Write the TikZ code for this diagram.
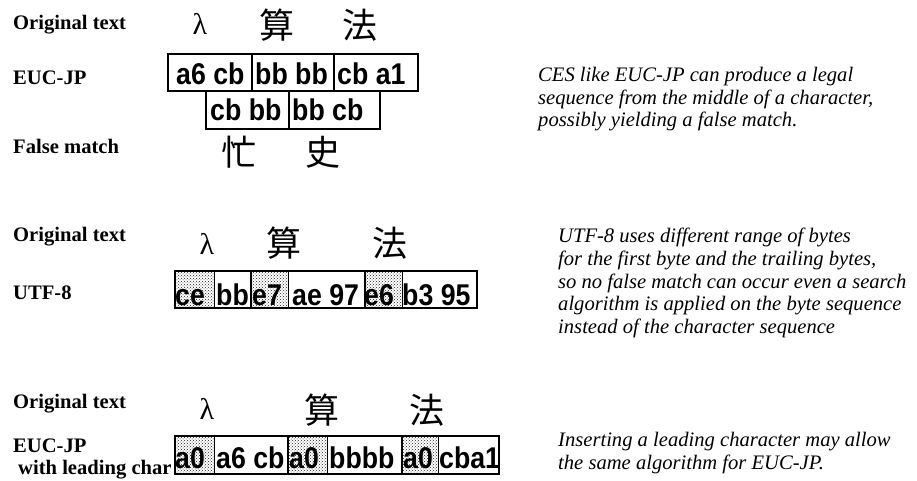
\documentclass[tikz,border=0pt]{standalone}
\usepackage{fontspec}
\setmainfont{Liberation Serif}
\newfontfamily\hvfont[FakeStretch=0.89]{Liberation Sans}
\newfontfamily\cjkfont{Noto Sans CJK JP}
\usetikzlibrary{patterns}
\begin{document}
\begin{tikzpicture}[x=1pt,y=-1pt,
  lbl/.style={anchor=west,inner sep=0pt,font=\fontsize{20.6}{22.7}\selectfont\bfseries},
  note/.style={anchor=north west,inner sep=0pt,align=left,font=\fontsize{20.6}{22.7}\selectfont\itshape},
  kanji/.style={inner sep=0pt,font=\cjkfont\fontsize{35}{35}\selectfont},
  lam/.style={anchor=base,inner sep=0pt,font=\fontsize{30}{30}\selectfont},
  byte/.style={anchor=base west,inner sep=0pt,font=\hvfont\fontsize{30}{30}\selectfont\bfseries},
  cellbox/.style={draw,line width=2.2pt},
  leadcell/.style={pattern=crosshatch dots,pattern color=black!85,draw,line width=0.8pt}
]
\useasboundingbox (0,0) rectangle (917,481);

% ---------- Section 1 ----------
\node[lbl] (o1) at (13,25) {Original text};
\node[lbl] (e1) at (13,78) {EUC-JP};
\node[lbl] (f1) at (13,146) {False match};
\node[lam] (l1) at (200,35) {λ};
\node[kanji] (s1) at (277,25) {算};
\node[kanji] (h1) at (360,25) {法};
\node[kanji] (m1) at (239,152) {忙};
\node[kanji] (k1) at (323,152) {史};

\draw[cellbox] (168,54) rectangle (252,91);
\draw[cellbox] (252,54) rectangle (334,91);
\draw[cellbox] (334,54) rectangle (418,91);
\draw[cellbox] (206,91) rectangle (289,129);
\draw[cellbox] (289,91) rectangle (380,129);
\node[byte] (b11) at (176,85) {a6 cb};
\node[byte] (b12) at (255,85) {bb bb};
\node[byte] (b13) at (337,85) {cb a1};
\node[byte] (b14) at (210,121) {cb bb};
\node[byte] (b15) at (292,121) {bb cb};

\node[note] (n1) at (538,67) {CES like EUC-JP can produce a legal\\
sequence from the middle of a character,\\
possibly yielding a false match.};

% ---------- Section 2 ----------
\node[lbl] (o2) at (13,237) {Original text};
\node[lbl] (u2) at (13,293) {UTF-8};
\node[lam] (l2) at (207,254) {λ};
\node[kanji] (s2) at (284,243) {算};
\node[kanji] (h2) at (390,243) {法};

\draw[leadcell] (175,271) rectangle (214,308);
\draw[leadcell] (251,271) rectangle (288,308);
\draw[leadcell] (365,271) rectangle (402,308);
\draw[cellbox] (175,271) rectangle (251,308);
\draw[cellbox] (251,271) rectangle (365,308);
\draw[cellbox] (365,271) rectangle (477,308);
\node[byte] (b21) at (175,305) {ce};
\node[byte] (b22) at (216,305) {bb};
\node[byte] (b23) at (252,305) {e7};
\node[byte] (b24) at (292,305) {ae 97};
\node[byte] (b25) at (364,305) {e6};
\node[byte] (b26) at (402,305) {b3 95};

\node[note] (n2) at (558,228) {UTF-8 uses different range of bytes\\
for the first byte and the trailing bytes,\\
so no false match can occur even a search\\
algorithm is applied on the byte sequence\\
instead of the character sequence};

% ---------- Section 3 ----------
\node[lbl] (o3) at (13,404) {Original text};
\node[lbl] (e3) at (13,446) {EUC-JP};
\node[anchor=base west,inner sep=0pt,font=\fontsize{20.6}{22.7}\selectfont\bfseries] (w3) at (18,474) {with leading char};
\node[lam] (l3) at (207,419) {λ};
\node[kanji] (s3) at (322,410) {算};
\node[kanji] (h3) at (427,410) {法};

\draw[leadcell] (175,436) rectangle (214,474);
\draw[leadcell] (288,436) rectangle (327,474);
\draw[leadcell] (402,436) rectangle (438,474);
\draw[cellbox] (175,436) rectangle (288,474);
\draw[cellbox] (288,436) rectangle (402,474);
\draw[cellbox] (402,436) rectangle (499,474);
\node[byte] (b31) at (175,468) {a0};
\node[byte] (b32) at (216,468) {a6 cb};
\node[byte] (b33) at (289,468) {a0};
\node[byte] (b34) at (329,468) {bbbb};
\node[byte] (b35) at (403,468) {a0};
\node[byte] (b36) at (439,468) {cba1};

\node[note] (n3) at (558,432) {Inserting a leading character may allow\\
the same algorithm for EUC-JP.};
\end{tikzpicture}
\end{document}
